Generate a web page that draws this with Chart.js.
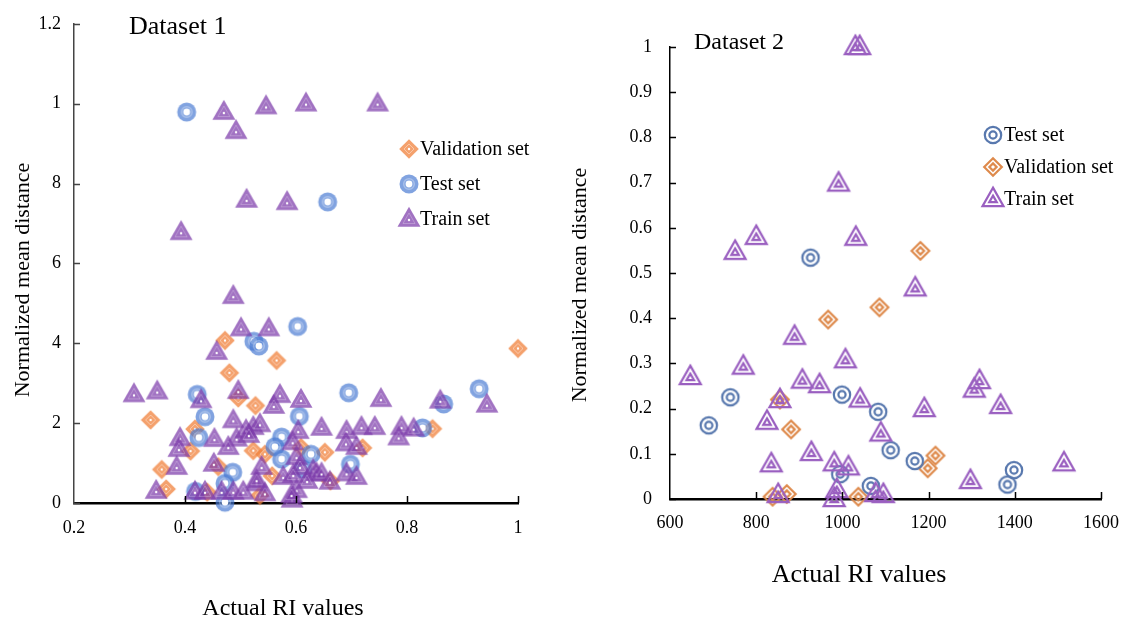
<!DOCTYPE html>
<html>
<head>
<meta charset="utf-8">
<script src="https://cdn.jsdelivr.net/npm/chart.js@4.4.1/dist/chart.umd.min.js"></script>
<style>
  body { margin: 0; background: #fff; width: 1125px; height: 620px; overflow: hidden; position: relative; }
  .box { position: absolute; top: 0; height: 620px; }
</style>
</head>
<body>
<div class="box" style="left:0;width:560px"><canvas id="chart1"></canvas></div>
<div class="box" style="left:560px;width:565px"><canvas id="chart2"></canvas></div>
<script>
// ---- Dataset 1 (left panel) ----
const d1ValidX = [1.0, 0.472, 0.565, 0.48, 0.338, 0.527, 0.496, 0.846, 0.358, 0.366, 0.418, 0.41, 0.46, 0.535, 0.557, 0.523, 0.544, 0.652, 0.72, 0.662, 0.609, 0.44];
const d1ValidY = [3.87, 4.07, 3.57, 3.26, 2.08, 2.44, 2.63, 1.86, 0.84, 0.35, 1.85, 1.3, 0.91, 0.19, 0.68, 1.31, 1.22, 1.27, 1.38, 0.55, 1.39, 0.27];

const d1TestX = [0.403, 0.657, 0.603, 0.524, 0.533, 0.695, 0.93, 0.866, 0.422, 0.436, 0.606, 0.425, 0.828, 0.574, 0.562, 0.574, 0.627, 0.698, 0.486, 0.472, 0.472, 0.419, 0.612];
const d1TestY = [9.79, 7.54, 4.42, 4.05, 3.93, 2.76, 2.86, 2.48, 2.72, 2.16, 2.17, 1.64, 1.88, 1.65, 1.41, 1.1, 1.22, 0.97, 0.77, 0.49, 0.02, 0.29, 0.85];

const d1TrainX = [0.47, 0.492, 0.546, 0.618, 0.747, 0.511, 0.584, 0.393, 0.487, 0.501, 0.551, 0.457, 0.308, 0.35, 0.429, 0.496, 0.571, 0.609, 0.56, 0.753,
  0.86, 0.944, 0.391, 0.389, 0.385, 0.348, 0.453, 0.487, 0.493, 0.523, 0.478, 0.452, 0.51, 0.535, 0.515, 0.604, 0.646, 0.691, 0.718, 0.742,
  0.79, 0.812, 0.785, 0.69, 0.709, 0.594, 0.601, 0.607, 0.631, 0.637, 0.646, 0.661, 0.691, 0.709, 0.577, 0.595, 0.601, 0.538, 0.529, 0.544,
  0.418, 0.436, 0.466, 0.487, 0.505, 0.593, 0.62, 0.592, 0.529];
const d1TrainY = [9.79, 9.31, 9.93, 10.0, 10.0, 7.59, 7.53, 6.78, 5.18, 4.37, 4.37, 3.78, 2.72, 2.79, 2.57, 2.8, 2.7, 2.58, 2.43, 2.6,
  2.56, 2.46, 1.62, 1.35, 0.9, 0.3, 1.6, 2.07, 1.61, 1.9, 1.4, 0.98, 1.82, 1.97, 1.7, 1.8, 1.88, 1.8, 1.9, 1.9,
  1.9, 1.86, 1.64, 1.49, 1.4, 1.52, 1.15, 0.9, 0.82, 0.74, 0.74, 0.53, 0.74, 0.65, 0.65, 0.7, 0.32, 0.9, 0.49, 0.24,
  0.28, 0.28, 0.28, 0.28, 0.28, 0.08, 0.55, 0.2, 0.57];

const d1XTicks = [0.2, 0.4, 0.6, 0.8, 1];
const d1XLabels = ["0.2", "0.4", "0.6", "0.8", "1"];
const d1YTicks = [0, 2, 4, 6, 8, 10, 12];
const d1YLabels = ["0", "2", "4", "6", "8", "1", "1.2"];

// ---- Dataset 2 (right panel) ----
const d2TestX = [926, 690, 740, 999, 1083, 1112, 1168, 995, 1066, 1398, 1383];
const d2TestY = [0.534, 0.163, 0.225, 0.231, 0.193, 0.108, 0.084, 0.055, 0.029, 0.064, 0.032];

const d2ValidX = [1181, 967, 1086, 855, 881, 1216, 1198, 838, 871, 1037];
const d2ValidY = [0.549, 0.397, 0.424, 0.22, 0.154, 0.096, 0.068, 0.005, 0.011, 0.005];

const d2TrainX = [1030, 1040, 991, 751, 800, 1031, 1169, 889, 1007, 770, 647, 907, 947, 1041, 855, 1190, 1318, 1306, 1367, 825,
  1089, 928, 835, 981, 1014, 1297, 1514, 851, 981, 987, 1077, 1095];
const d2TrainY = [1.0, 1.0, 0.698, 0.547, 0.58, 0.578, 0.466, 0.359, 0.307, 0.293, 0.27, 0.262, 0.252, 0.22, 0.219, 0.199, 0.261, 0.242, 0.206, 0.171,
  0.145, 0.102, 0.077, 0.079, 0.07, 0.04, 0.079, 0.009, 0.0, 0.02, 0.011, 0.009];

const d2XTicks = [600, 800, 1000, 1200, 1400, 1600];
const d2XLabels = ["600", "800", "1000", "1200", "1400", "1600"];
const d2YTicks = [0, 0.1, 0.2, 0.3, 0.4, 0.5, 0.6, 0.7, 0.8, 0.9, 1];
const d2YLabels = ["0", "0.1", "0.2", "0.3", "0.4", "0.5", "0.6", "0.7", "0.8", "0.9", "1"];

const xTitle = "Actual RI values";
const yTitle = "Normalized mean distance";

const zip = (xs, ys) => xs.map((x, i) => ({ x: x, y: ys[i] }));
const SERIF = '"Liberation Serif", "Times New Roman", serif';

// ---- marker images ----
function makeCanvas(w, h) {
  const c = document.createElement("canvas");
  c.width = w; c.height = h;
  return c;
}
// triangle with its centroid at (cx, cy)
function triPath(ctx, cx, cy, w, h) {
  ctx.beginPath();
  ctx.moveTo(cx, cy - h * 2 / 3);
  ctx.lineTo(cx + w / 2, cy + h / 3);
  ctx.lineTo(cx - w / 2, cy + h / 3);
  ctx.closePath();
}
function diaPath(ctx, cx, cy, r) {
  ctx.beginPath();
  ctx.moveTo(cx, cy - r);
  ctx.lineTo(cx + r, cy);
  ctx.lineTo(cx, cy + r);
  ctx.lineTo(cx - r, cy);
  ctx.closePath();
}

// filled, translucent markers (left panel)
function filledTriangle() {
  const c = makeCanvas(26, 28), ctx = c.getContext("2d");
  triPath(ctx, 13, 15, 23, 20);
  ctx.fillStyle = "rgba(125,60,170,0.72)";
  ctx.fill();
  triPath(ctx, 13, 15, 12, 10.5);
  ctx.strokeStyle = "rgba(255,255,255,0.25)";
  ctx.lineWidth = 1;
  ctx.stroke();
  ctx.beginPath(); ctx.arc(13, 15, 1.2, 0, Math.PI * 2);
  ctx.fillStyle = "#fff"; ctx.fill();
  return c;
}
function filledCircle() {
  const c = makeCanvas(22, 22), ctx = c.getContext("2d");
  ctx.beginPath(); ctx.arc(11, 11, 9.5, 0, Math.PI * 2);
  ctx.fillStyle = "rgba(70,120,210,0.68)"; ctx.fill();
  ctx.beginPath(); ctx.arc(11, 11, 5.3, 0, Math.PI * 2);
  ctx.strokeStyle = "rgba(255,255,255,0.3)"; ctx.lineWidth = 1.5; ctx.stroke();
  ctx.beginPath(); ctx.arc(11, 11, 3.4, 0, Math.PI * 2);
  ctx.fillStyle = "#fff"; ctx.fill();
  return c;
}
function filledDiamond() {
  const c = makeCanvas(22, 22), ctx = c.getContext("2d");
  diaPath(ctx, 11, 11, 9.8);
  ctx.fillStyle = "rgba(240,130,60,0.75)"; ctx.fill();
  diaPath(ctx, 11, 11, 5);
  ctx.strokeStyle = "rgba(255,255,255,0.4)"; ctx.lineWidth = 1; ctx.stroke();
  ctx.beginPath(); ctx.arc(11, 11, 1.2, 0, Math.PI * 2);
  ctx.fillStyle = "#fff"; ctx.fill();
  return c;
}

// hollow double-outline markers (right panel)
function hollowTriangle() {
  const c = makeCanvas(28, 28), ctx = c.getContext("2d");
  ctx.strokeStyle = "#9a5fc0"; ctx.lineWidth = 2.2; ctx.lineJoin = "miter";
  triPath(ctx, 14, 15, 21, 18.5); ctx.stroke();
  triPath(ctx, 14, 15, 7.5, 6.5); ctx.stroke();
  return c;
}
function hollowCircle() {
  const c = makeCanvas(24, 24), ctx = c.getContext("2d");
  ctx.strokeStyle = "#5878ae"; ctx.lineWidth = 2.2;
  ctx.beginPath(); ctx.arc(12, 12, 8.2, 0, Math.PI * 2); ctx.stroke();
  ctx.beginPath(); ctx.arc(12, 12, 3.6, 0, Math.PI * 2); ctx.stroke();
  return c;
}
function hollowDiamond() {
  const c = makeCanvas(24, 24), ctx = c.getContext("2d");
  ctx.strokeStyle = "#de8a4c"; ctx.lineWidth = 2.2;
  diaPath(ctx, 12, 12, 8.8); ctx.stroke();
  diaPath(ctx, 12, 12, 3.6); ctx.stroke();
  return c;
}

const mTri1 = filledTriangle(), mCir1 = filledCircle(), mDia1 = filledDiamond();
const mTri2 = hollowTriangle(), mCir2 = hollowCircle(), mDia2 = hollowDiamond();

// inward ticks, axis titles, panel caption and legend
function decorPlugin(opts) {
  return {
    id: "decor",
    afterDraw(chart) {
      const ctx = chart.ctx;
      const xs = chart.scales.x, ys = chart.scales.y, area = chart.chartArea;
      ctx.save();
      ctx.strokeStyle = opts.yColor;
      ctx.lineWidth = 1.5;
      ctx.beginPath();
      ys.ticks.forEach(t => {
        const py = Math.round(ys.getPixelForValue(t.value)) + 0.5;
        ctx.moveTo(area.left, py); ctx.lineTo(area.left + 6, py);
      });
      ctx.stroke();
      ctx.strokeStyle = "#000";
      ctx.beginPath();
      xs.ticks.forEach((t, i) => {
        if (i === 0) return;
        const px = Math.round(xs.getPixelForValue(t.value)) + 0.5;
        ctx.moveTo(px, area.bottom); ctx.lineTo(px, area.bottom - 7);
      });
      ctx.stroke();

      ctx.fillStyle = "#000";
      ctx.textBaseline = "middle";
      ctx.textAlign = "center";
      ctx.font = opts.xTitleSize + "px " + SERIF;
      ctx.fillText(xTitle, opts.xTitleX, opts.xTitleY);
      ctx.save();
      ctx.translate(opts.yTitleX, opts.yTitleY);
      ctx.rotate(-Math.PI / 2);
      ctx.font = opts.yTitleSize + "px " + SERIF;
      ctx.fillText(yTitle, 0, 0);
      ctx.restore();

      ctx.textAlign = "left";
      ctx.font = opts.captionSize + "px " + SERIF;
      ctx.fillText(opts.caption, opts.captionX, opts.captionY);

      ctx.font = "20px " + SERIF;
      opts.legend.forEach((idx, i) => {
        const ds = chart.data.datasets[idx];
        const img = ds.pointStyle;
        const y = opts.legendY + i * opts.legendGap;
        ctx.drawImage(img, opts.legendX - img.width / 2, y - img.height / 2);
        ctx.fillText(ds.label, opts.legendX + 11, y + 1);
      });
      ctx.restore();
    }
  };
}

function axisX(ticks, labels, min, max, height, padding) {
  return {
    type: "linear", min: min, max: max,
    afterBuildTicks: s => { s.ticks = ticks.map(v => ({ value: v })); },
    afterFit: s => { s.height = height; s.paddingLeft = 0; s.paddingRight = 0; },
    grid: { display: false, drawTicks: false },
    border: { display: true, color: "#000", width: 2.5 },
    ticks: { padding: padding, color: "#000", font: { family: SERIF, size: 18 }, callback: (v, i) => labels[i] }
  };
}
function axisY(ticks, labels, min, max, width, padding, color) {
  return {
    type: "linear", min: min, max: max,
    afterBuildTicks: s => { s.ticks = ticks.map(v => ({ value: v })); },
    afterFit: s => { s.width = width; },
    grid: { display: false, drawTicks: false },
    border: { display: true, color: color, width: 1.5 },
    ticks: { padding: padding, color: "#000", font: { family: SERIF, size: 18 }, callback: (v, i) => labels[i] }
  };
}

new Chart(document.getElementById("chart1"), {
  type: "scatter",
  data: {
    datasets: [
      { label: "Validation set", data: zip(d1ValidX, d1ValidY), pointStyle: mDia1, pointRadius: 9, order: 2, clip: false },
      { label: "Test set", data: zip(d1TestX, d1TestY), pointStyle: mCir1, pointRadius: 9, order: 1, clip: false },
      { label: "Train set", data: zip(d1TrainX, d1TrainY), pointStyle: mTri1, pointRadius: 10, order: 0, clip: false }
    ]
  },
  options: {
    responsive: true,
    maintainAspectRatio: false,
    animation: false,
    events: [],
    layout: { padding: { left: 0, right: 42, top: 21, bottom: 0 } },
    plugins: { legend: { display: false }, tooltip: { enabled: false } },
    scales: {
      x: axisX(d1XTicks, d1XLabels, 0.2, 1, 117, 14),
      y: axisY(d1YTicks, d1YLabels, 0, 12, 74, 13, "#444")
    }
  },
  plugins: [decorPlugin({ yColor: "#444", caption: "Dataset 1", captionSize: 26, captionX: 129, captionY: 27,
    xTitleX: 283, xTitleY: 609, xTitleSize: 24, yTitleX: 23, yTitleY: 280, yTitleSize: 22,
    legend: [0, 1, 2], legendX: 409, legendY: 149, legendGap: 35 })]
});

new Chart(document.getElementById("chart2"), {
  type: "scatter",
  data: {
    datasets: [
      { label: "Test set", data: zip(d2TestX, d2TestY), pointStyle: mCir2, pointRadius: 9, order: 1, clip: false },
      { label: "Validation set", data: zip(d2ValidX, d2ValidY), pointStyle: mDia2, pointRadius: 9, order: 2, clip: false },
      { label: "Train set", data: zip(d2TrainX, d2TrainY), pointStyle: mTri2, pointRadius: 10, order: 0, clip: false }
    ]
  },
  options: {
    responsive: true,
    maintainAspectRatio: false,
    animation: false,
    events: [],
    layout: { padding: { left: 0, right: 24, top: 47, bottom: 0 } },
    plugins: { legend: { display: false }, tooltip: { enabled: false } },
    scales: {
      x: axisX(d2XTicks, d2XLabels, 600, 1600, 121, 13),
      y: axisY(d2YTicks, d2YLabels, 0, 1, 110, 18, "#000")
    }
  },
  plugins: [decorPlugin({ yColor: "#000", caption: "Dataset 2", captionSize: 24, captionX: 134, captionY: 43,
    xTitleX: 299, xTitleY: 575, xTitleSize: 26, yTitleX: 20, yTitleY: 285, yTitleSize: 22,
    legend: [0, 1, 2], legendX: 433, legendY: 135, legendGap: 32 })]
});
</script>
</body>
</html>
